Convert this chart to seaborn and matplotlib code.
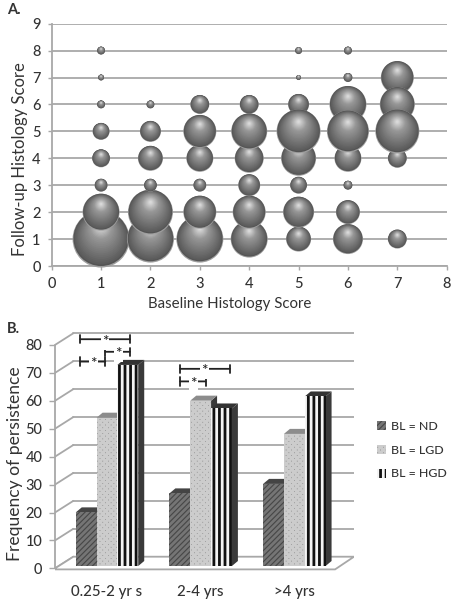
import numpy as np
import pandas as pd
import matplotlib
matplotlib.use("Agg")
import matplotlib.pyplot as plt
import seaborn as sns
from matplotlib.patches import Patch, Polygon

# --------------------------
# Data panel A (bubble diameter, px)
# --------------------------
followup_scores = [1, 2, 3, 4, 5, 6, 7, 8]
baseline_1 = [57, 37, 13, 18, 17, 8, 6, 8]
baseline_2 = [47, 45, 13, 25, 21, 8, 0, 0]
baseline_3 = [47, 33, 13, 27, 33, 19, 0, 0]
baseline_4 = [37, 33, 22, 29, 36, 19, 0, 0]
baseline_5 = [25, 31, 17, 35, 44, 21, 5, 7]
baseline_6 = [30, 24, 9, 27, 42, 37, 9, 8]
baseline_7 = [19, 0, 0, 19, 44, 35, 33, 0]
baseline_all = [baseline_1, baseline_2, baseline_3, baseline_4,
                baseline_5, baseline_6, baseline_7]

# --------------------------
# Data panel B
# --------------------------
periods = ["0.25-2 yr s", "2-4 yrs", ">4 yrs"]
groups = ["BL = ND", "BL = LGD", "BL = HGD"]
freq_nd = [19.2, 26, 29.4]
freq_lgd = [53.1, 59.2, 47.3]
freq_hgd = [72, 56.4, 60.7]

freq_ticks = [0, 10, 20, 30, 40, 50, 60, 70, 80]

# bracket start, end, star x, height
brackets = [(-0.288, 0.246, -0.02, 81.2),
            (-0.018, 0.246, 0.12, 76.7),
            (-0.288, -0.018, -0.146, 73.2),
            (0.779, 1.313, 1.04, 70.6),
            (0.779, 1.053, 0.925, 66.1)]

sns.set_theme(style="white")
plt.rcParams["font.family"] = ["Lato", "DejaVu Sans"]
plt.rcParams["font.weight"] = "medium"
plt.rcParams["hatch.linewidth"] = 2.0
text_col = "#333333"
grid_col = "#a8a8a8"

fig = plt.figure(figsize=(4.57, 6.0), dpi=100)


def px_axes(left, top, right, bottom):
    return fig.add_axes([left / 457, 1 - bottom / 600,
                         (right - left) / 457, (bottom - top) / 600])


# --------------------------
# Panel A
# --------------------------
ax1 = px_axes(51.7, 23.7, 446.7, 266)

y_per_px = 9 / 242.3

# draw order seen in the picture
y_order = [1, 2, 3, 4, 8, 7, 6, 5]

# (size factor, lift of the centre in radii, grey)
n_body = 14
layers = [(1.0, 0.0, 0.62), (0.97, 0.025, 0.33)]
for f, lift, grey in zip(np.linspace(0.93, 0.42, n_body),
                         np.linspace(0.04, 0.36, n_body),
                         np.linspace(0.36, 0.58, n_body)):
    layers.append((f, lift, grey))
for f, lift, grey in zip(np.linspace(0.38, 0.06, 9),
                         np.linspace(0.38, 0.44, 9),
                         np.linspace(0.60, 0.85, 9)):
    layers.append((f, lift, grey))

rows = []
for i, col in enumerate(baseline_all):
    for fu in y_order:
        d = col[followup_scores.index(fu)]
        if d == 0:
            continue
        for f, lift, grey in layers:
            rows.append({"x": i + 1,
                         "y": fu + lift * d / 2 * y_per_px,
                         "area": (d * f) ** 2,
                         "grey": grey})
bubbles = pd.DataFrame(rows)

top_area = bubbles["area"].max()
sns.scatterplot(
    data=bubbles, x="x", y="y", hue="grey", size="area",
    palette="gray", hue_norm=(0, 1),
    size_norm=(0, top_area), sizes=(0, top_area * 0.72 ** 2),
    linewidth=0, legend=False, clip_on=False, zorder=3, ax=ax1
)

ax1.set_xlim(0, 8)
ax1.set_ylim(0, 9)
ax1.set_xticks(range(9))
ax1.set_yticks(range(10))
ax1.yaxis.grid(True, color=grid_col, lw=1.3)
ax1.set_axisbelow(True)
sns.despine(ax=ax1)
for side in ["left", "bottom"]:
    ax1.spines[side].set_color(grid_col)
    ax1.spines[side].set_linewidth(1.3)
ax1.tick_params(axis="x", bottom=True, length=3, width=1, color=grid_col,
                labelsize=10.5, labelcolor=text_col, pad=5)
ax1.tick_params(axis="y", left=True, length=3, width=1, color=grid_col,
                labelsize=10.5, labelcolor=text_col, pad=5)
ax1.set_xlabel("Baseline Histology Score", fontsize=10.8, color=text_col, labelpad=4, x=0.45)
ax1.set_ylabel("Follow-up Histology Score", fontsize=12.0, color=text_col, labelpad=3, y=0.44)

# --------------------------
# Panel B
# --------------------------
ax2 = px_axes(55, 323.3, 354, 570.7)

freq = pd.DataFrame({
    "period": periods * 3,
    "group": np.repeat(groups, 3),
    "value": freq_nd + freq_lgd + freq_hgd
})

sns.barplot(
    data=freq, x="period", y="value", hue="group",
    order=periods, hue_order=groups, width=0.667, gap=0,
    errorbar=None, legend=False, zorder=3, linewidth=0, ax=ax2
)

ax2.set_xlim(-0.555, 2.637)
ax2.set_ylim(-1.67, 86.9)

face = {"BL = ND": "#474747", "BL = LGD": "#9c9c9c", "BL = HGD": "#f4f4f4"}
edge = {"BL = ND": "#757575", "BL = LGD": "#cccccc", "BL = HGD": "#111111"}
hatch = {"BL = ND": "//////", "BL = LGD": "xxxxxx", "BL = HGD": "|||"}
top_col = {"BL = ND": "#444444", "BL = LGD": "#8c8c8c", "BL = HGD": "#333333"}

depth_x = 18 / 281
depth_y = 1.8

bars = list(ax2.patches)
for n, bar in enumerate(bars):
    g = groups[n // 3]
    bar.set_facecolor(face[g])
    bar.set_edgecolor(edge[g])
    bar.set_hatch(hatch[g])
    x0 = bar.get_x()
    x1 = x0 + bar.get_width()
    h = bar.get_height()
    ax2.add_patch(Polygon([(x1, 0), (x1 + depth_x, depth_y),
                           (x1 + depth_x, h + depth_y), (x1, h)],
                          facecolor="#3a3a3a", lw=0, zorder=2.5))
    ax2.add_patch(Polygon([(x0, h), (x0 + depth_x, h + depth_y),
                           (x1 + depth_x, h + depth_y), (x1, h)],
                          facecolor=top_col[g], lw=0, zorder=2.6))

# walls and floor
front_y = -0.84
wall_y = 3.34
wall_x = -0.359
right_x = 2.637
floor_right = 2.435
for v in freq_ticks:
    ax2.plot([wall_x, right_x], [v + wall_y, v + wall_y], color=grid_col, lw=1.3, zorder=1)
    ax2.plot([-0.555, wall_x], [v + front_y, v + wall_y], color=grid_col, lw=1.3, zorder=1)
ax2.add_patch(Polygon([(-0.555, front_y), (wall_x, wall_y), (right_x, wall_y),
                       (floor_right, -1.2), (-0.555, -1.2)],
                      facecolor="white", edgecolor=grid_col, lw=1.3, zorder=1.5))

sns.despine(ax=ax2, right=True, top=True)
ax2.spines["left"].set_bounds(front_y, 80 + front_y)
ax2.spines["left"].set_color(grid_col)
ax2.spines["left"].set_linewidth(1.3)
ax2.spines["bottom"].set_visible(False)
ax2.set_yticks([v + front_y for v in freq_ticks])
ax2.set_yticklabels(freq_ticks)
ax2.tick_params(axis="y", left=True, length=4, width=1, color=grid_col,
                labelsize=10.5, labelcolor=text_col, pad=5)
ax2.tick_params(axis="x", bottom=False, labelsize=10.8, labelcolor=text_col, pad=4)
ax2.set_xlabel("")
ax2.set_ylabel("Frequency of persistence", fontsize=12.6, color=text_col, labelpad=2, y=0.431)

for x0, x1, star, y in brackets:
    ax2.annotate("", xy=(x0, y), xytext=(x1, y), zorder=5,
                 arrowprops=dict(arrowstyle="|-|,widthA=0.25,widthB=0.25", color="#222222",
                                 lw=1.3, shrinkA=0, shrinkB=0))
    ax2.text(star, y - 0.9, "*", ha="center", va="center", fontsize=11, color="#222222", zorder=6,
             bbox=dict(facecolor="white", edgecolor="none", pad=0.8))

handles = [Patch(facecolor=face[g], edgecolor=edge[g], hatch=hatch[g], lw=0) for g in groups]
fig.legend(handles, groups, loc="center left", bbox_to_anchor=(377 / 457, 1 - 450 / 600),
           frameon=False, fontsize=8.9, labelcolor=text_col, handlelength=0.75,
           handleheight=0.75, handletextpad=0.35, labelspacing=1.05, borderpad=0, borderaxespad=0)

fig.text(7 / 457, 1 - 10 / 600, "A.", fontsize=10.5, fontweight="bold", color=text_col, va="center")
fig.text(7 / 457, 1 - 329 / 600, "B.", fontsize=10.5, fontweight="bold", color=text_col, va="center")

fig.savefig("out.png", dpi=100)
